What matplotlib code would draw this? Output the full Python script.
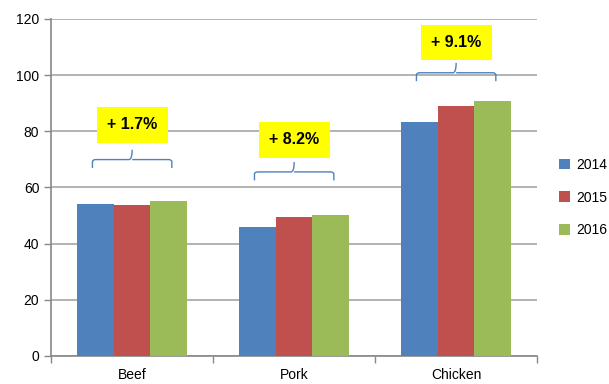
import matplotlib
matplotlib.use("Agg")
import matplotlib.pyplot as plt
import numpy as np
from matplotlib.path import Path
from matplotlib.patches import PathPatch

plt.rcParams['font.family'] = ['Liberation Sans', 'DejaVu Sans']

categories = ['Beef', 'Pork', 'Chicken']
years = ['2014', '2015', '2016']
values_2014 = [54.1, 46.0, 83.2]
values_2015 = [53.6, 49.5, 89.0]
values_2016 = [55.0, 50.0, 90.8]
changes = ['+ 1.7%', '+ 8.2%', '+ 9.1%']
colors = ['#4F81BD', '#C0504D', '#9BBB59']

fig = plt.figure(figsize=(6.09, 3.84), dpi=100)
ax = fig.add_axes([0.084, 0.073, 0.798, 0.878])

x = np.arange(len(categories))
w = 0.225
for i, (vals, yr) in enumerate(zip([values_2014, values_2015, values_2016], years)):
    ax.bar(x + (i - 1) * w, vals, w, color=colors[i], label=yr, zorder=3)

ax.set_xlim(-0.5, 2.5)
ax.set_ylim(0, 120)
ax.set_yticks(range(0, 121, 20))
ax.grid(axis='y', color='#A6A6A6', linewidth=1.2, zorder=0)
ax.set_xticks(x)
ax.set_xticklabels(categories, fontsize=10)
ax.set_xticks([-0.5, 0.5, 1.5, 2.5], minor=True)
ax.tick_params(axis='x', which='major', length=0, pad=9)
ax.tick_params(axis='x', which='minor', length=5, color='#888888', width=1)
ax.tick_params(axis='y', length=5, color='#888888', labelsize=10, width=1)
for s in ['top', 'right']:
    ax.spines[s].set_visible(False)
for s in ['left', 'bottom']:
    ax.spines[s].set_color('#888888')
    ax.spines[s].set_linewidth(1.2)

# braces and labels
box_y = [82.3, 77.0, 111.6]
brace_tip = [73.4, 69.0, 104.3]
for xi, lab, by, tip in zip(x, changes, box_y, brace_tip):
    h = tip - 3.5
    end = h - 3.0
    x0, x1 = xi - 0.245, xi + 0.245
    r = 0.02
    verts = [(x0, end), (x0, h - 0.8), (x0, h), (x0 + r, h),
             (xi - r, h), (xi, h), (xi, tip),
             (xi, h), (xi + r, h),
             (x1 - r, h), (x1, h), (x1, h - 0.8), (x1, end)]
    codes = [Path.MOVETO, Path.LINETO, Path.CURVE3, Path.CURVE3,
             Path.LINETO, Path.CURVE3, Path.CURVE3,
             Path.MOVETO, Path.CURVE3,
             Path.LINETO, Path.CURVE3, Path.CURVE3, Path.LINETO]
    ax.add_patch(PathPatch(Path(verts, codes), fill=False, edgecolor='#4F81BD',
                           linewidth=1.0, zorder=4))
    ax.text(xi, by, lab, ha='center', va='center', fontsize=11.5, fontweight='bold',
            bbox=dict(boxstyle='square,pad=0.65', facecolor='yellow', edgecolor='none'),
            zorder=5)

ax.legend(loc='center left', bbox_to_anchor=(1.02, 0.47), frameon=False,
          fontsize=10, handlelength=0.8, handleheight=0.8, labelspacing=1.35,
          handletextpad=0.4)

plt.savefig('out.png', dpi=100)
